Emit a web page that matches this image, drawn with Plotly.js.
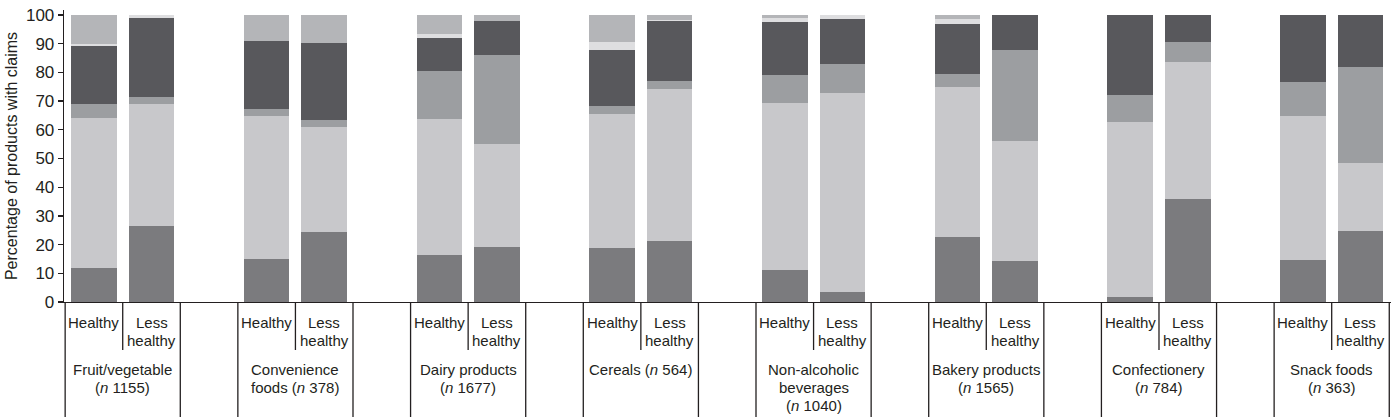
<!DOCTYPE html>
<html>
<head>
<meta charset="utf-8">
<script src="https://cdn.plot.ly/plotly-3.0.1.min.js"></script>
<style>html,body{margin:0;padding:0;background:#fff;}#chart{width:1391px;height:417px;}</style>
</head>
<body>
<div id="chart"></div>
<script>
// ---- data (percent of products with claims), order per group: Healthy, Less healthy ----
var categories = [
  ["Fruit/vegetable", "(<i>n</i> 1155)"],
  ["Convenience", "foods (<i>n</i> 378)"],
  ["Dairy products", "(<i>n</i> 1677)"],
  ["Cereals (<i>n</i> 564)"],
  ["Non-alcoholic", "beverages", "(<i>n</i> 1040)"],
  ["Bakery products", "(<i>n</i> 1565)"],
  ["Confectionery", "(<i>n</i> 784)"],
  ["Snack foods", "(<i>n</i> 363)"]
];
var subgroups = [["Healthy"], ["Less", "healthy"]];
var yTicks = [0, 10, 20, 30, 40, 50, 60, 70, 80, 90, 100];

var series1 = [12.0, 26.4, 15.1, 24.3, 16.4, 19.2, 18.9, 21.3, 11.3, 3.6, 22.6, 14.4, 1.7, 35.8, 14.6, 24.9];
var series2 = [52.1, 42.6, 49.7, 36.7, 47.4, 35.7, 46.5, 52.8, 58.0, 69.2, 52.3, 41.7, 61.0, 47.7, 50.1, 23.4];
var series3 = [4.8, 2.3, 2.3, 2.3, 16.5, 31.3, 2.8, 2.7, 9.6, 10.0, 4.4, 31.8, 9.5, 6.9, 11.8, 33.5];
var series4 = [20.3, 27.5, 23.8, 26.9, 11.7, 11.7, 19.5, 21.1, 18.5, 15.7, 17.6, 12.1, 27.8, 9.6, 23.5, 18.2];
var series5 = [0.8, 1.2, 0.0, 0.0, 1.4, 0.0, 2.7, 0.4, 1.6, 1.5, 1.5, 0.0, 0.0, 0.0, 0.0, 0.0];
var series6 = [10.0, 0.0, 9.1, 9.8, 6.6, 2.1, 9.6, 1.7, 1.0, 0.0, 1.6, 0.0, 0.0, 0.0, 0.0, 0.0];
var seriesNames = ["Claim type 1", "Claim type 2", "Claim type 3", "Claim type 4", "Claim type 5", "Claim type 6"];

// ---- styling ----
var colors = ["#7b7b7e", "#c8c8cb", "#9c9ea1", "#58585c", "#dedee0", "#b4b5b8"];
var ink = "#231f20";
var font = "'Liberation Sans', Arial, Helvetica, sans-serif";
var H = 417, mT = 10, mB = 115;
var plotH = H - mT - mB;
function py(pix) { return (H - mB - pix) / plotH; }

// x positions: each group uses 3 slots (2 bars + gap)
var xpos = [];
for (var g = 0; g < categories.length; g++) { xpos.push(3 * g + 0.5); xpos.push(3 * g + 1.5); }

var allSeries = [series1, series2, series3, series4, series5, series6];
var traces = allSeries.map(function (s, k) {
  return {
    type: "bar", x: xpos, y: s, name: seriesNames[k], width: 0.79,
    marker: { color: colors[k], line: { width: 0 } },
    showlegend: false, hoverinfo: "skip"
  };
});

var shapes = [];
var annotations = [];
for (var g = 0; g < categories.length; g++) {
  var x0 = 3 * g;
  shapes.push({ type: "line", xref: "x", yref: "paper", x0: x0, x1: x0, y0: 0, y1: py(417), line: { color: ink, width: 1.3 } });
  shapes.push({ type: "line", xref: "x", yref: "paper", x0: x0 + 2, x1: x0 + 2, y0: 0, y1: py(417), line: { color: ink, width: 1.3 } });
  shapes.push({ type: "line", xref: "x", yref: "paper", x0: x0 + 1, x1: x0 + 1, y0: 0, y1: py(350), line: { color: ink, width: 1.3 } });
  subgroups.forEach(function (lines, j) {
    lines.forEach(function (t, li) {
      annotations.push({ xref: "x", yref: "paper", x: x0 + 0.5 + j, y: py(322 + 18 * li), text: t,
        showarrow: false, xanchor: "center", yanchor: "middle", font: { family: font, size: 15, color: ink } });
    });
  });
  categories[g].forEach(function (t, li) {
    annotations.push({ xref: "x", yref: "paper", x: x0 + 1, y: py(369 + 18 * li), text: t,
      showarrow: false, xanchor: "center", yanchor: "middle", font: { family: font, size: 15, color: ink } });
  });
}

var layout = {
  width: 1391, height: H,
  margin: { l: 64, r: 0, t: mT, b: mB, pad: 0 },
  barmode: "stack",
  paper_bgcolor: "#ffffff", plot_bgcolor: "#ffffff",
  font: { family: font, color: ink },
  xaxis: {
    range: [-0.02, 23.03], showticklabels: false, ticks: "", showgrid: false, zeroline: false,
    showline: true, linecolor: ink, linewidth: 1.3, fixedrange: true
  },
  yaxis: {
    range: [0, 101.7], tickvals: yTicks, ticktext: yTicks.map(String),
    ticks: "outside", ticklen: 5, tickwidth: 1.3, tickcolor: ink,
    tickfont: { family: font, size: 17, color: ink },
    showgrid: false, zeroline: false, showline: true, linecolor: ink, linewidth: 1.3,
    title: { text: "Percentage of products with claims", font: { family: font, size: 16, color: ink }, standoff: 4 },
    automargin: false, fixedrange: true
  },
  shapes: shapes,
  annotations: annotations,
  bargap: 0
};

Plotly.newPlot("chart", traces, layout, { staticPlot: true, displayModeBar: false });
</script>
</body>
</html>
